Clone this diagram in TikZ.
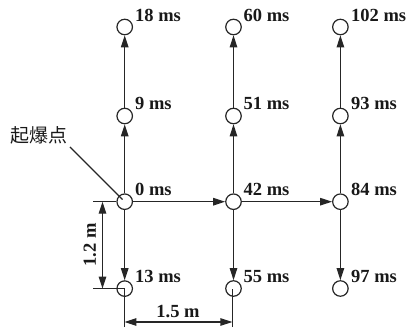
\documentclass[tikz,border=0pt]{standalone}
\usepackage{fontspec}
\setmainfont{Liberation Serif}
\newfontfamily\cjk{Noto Sans CJK SC}
\usetikzlibrary{arrows.meta}
\tikzset{
 x=1pt,y=-1pt,
 hole/.style={circle,draw=black!85,line width=1.2pt,minimum size=15.5pt,inner sep=0pt},
 lbl/.style={font=\fontsize{18.5}{19}\selectfont\bfseries,inner sep=0pt,anchor=west,text=black!90},
 conn/.style={draw=black!85,line width=1.2pt,-{Triangle[length=12pt,width=7.5pt]}},
 dimn/.style={draw=black!85,line width=1.2pt,{Triangle[length=12pt,width=7.5pt]}-{Triangle[length=12pt,width=7.5pt]}},
 thin line/.style={draw=black!85,line width=1.2pt}
}
\begin{document}
\begin{tikzpicture}
\useasboundingbox (0,0) rectangle (409,328);
% holes
\node[hole] (a1) at (124.7,27) {};
\node[hole] (b1) at (233.5,27) {};
\node[hole] (c1) at (340.4,27) {};
\node[hole] (a2) at (124.7,116) {};
\node[hole] (b2) at (233.5,116) {};
\node[hole] (c2) at (340.4,116) {};
\node[hole] (a3) at (124.7,201.7) {};
\node[hole] (b3) at (233.5,201.7) {};
\node[hole] (c3) at (340.4,201.7) {};
\node[hole] (a4) at (124.7,288.6) {};
\node[hole] (b4) at (233.5,288.5) {};
\node[hole] (c4) at (340.4,288.5) {};
% labels
\node[lbl] (la1) at (135,15.5) {18 ms};
\node[lbl] (lb1) at (243.5,15.5) {60 ms};
\node[lbl] (lc1) at (351,15.5) {102 ms};
\node[lbl] (la2) at (135,103.5) {9 ms};
\node[lbl] (lb2) at (243.5,103.5) {51 ms};
\node[lbl] (lc2) at (351,103.5) {93 ms};
\node[lbl] (la3) at (135,189.5) {0 ms};
\node[lbl] (lb3) at (243.5,189.5) {42 ms};
\node[lbl] (lc3) at (351,189.5) {84 ms};
\node[lbl] (la4) at (135,276.5) {13 ms};
\node[lbl] (lb4) at (243.5,276.5) {55 ms};
\node[lbl] (lc4) at (351,276.5) {97 ms};
\node[font=\fontsize{19}{20}\selectfont\cjk,inner sep=0pt,text=black!90] (qb) at (39,135) {起爆点};
% connectors
\draw[conn] (a3) -- (a2);
\draw[conn] (a2) -- (a1);
\draw[conn] (b3) -- (b2);
\draw[conn] (b2) -- (b1);
\draw[conn] (c3) -- (c2);
\draw[conn] (c2) -- (c1);
\draw[conn] (a3) -- (b3);
\draw[conn] (b3) -- (c3);
\draw[conn] (a3) -- (a4);
\draw[conn] (b3) -- (b4);
\draw[conn] (c3) -- (c4);
% leader
\coordinate (ld) at (70,147);
\coordinate (ldend) at (122.5,199.5);
\draw[thin line] (ld) -- (ldend);
% dimensions
\coordinate (e1) at (93,201.7);
\coordinate (e2) at (93,288.6);
\coordinate (e3) at (124.4,327);
\coordinate (e4) at (232.4,327);
\coordinate (d1) at (102.5,201.7);
\coordinate (d2) at (102.5,288.6);
\coordinate (d3) at (124.4,322);
\coordinate (d4) at (232.4,322);
\draw[thin line] (e1) -- (a3.west);
\draw[thin line] (e2) -- (a4.center);
\draw[thin line] (e3) -- (a4.center -| e3);
\draw[thin line] (e4) -- (b4.center -| e4);
\draw[dimn] (d1) -- (d2);
\draw[dimn] (d3) -- (d4);
\node[lbl,anchor=center,rotate=90] (h12) at (90,245) {1.2 m};
\node[lbl,anchor=center] (h15) at (178,311.5) {1.5 m};
\end{tikzpicture}
\end{document}
